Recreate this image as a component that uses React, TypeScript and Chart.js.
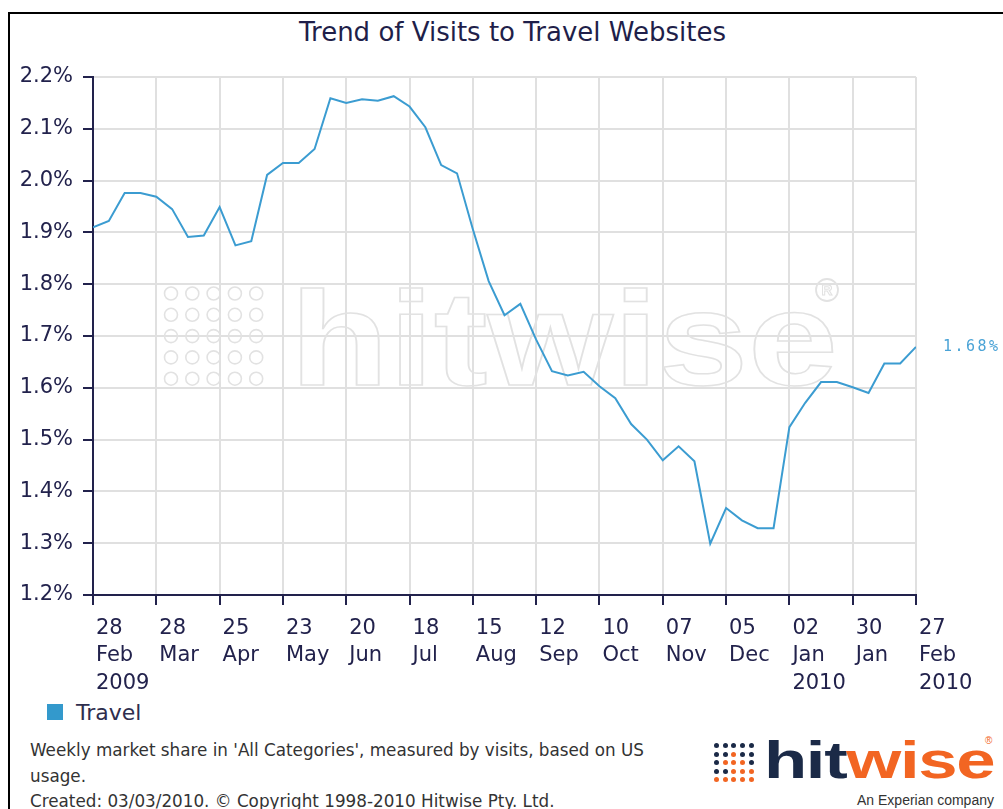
import React, { useEffect, useRef } from "react";
import { Chart, registerables } from "chart.js";

Chart.register(...registerables);

// ---- data ----
const seriesName = "Travel";
const values: number[] = [
  1.910, 1.922, 1.976, 1.976, 1.969, 1.945, 1.891, 1.894, 1.949, 1.875,
  1.883, 2.011, 2.034, 2.034, 2.061, 2.159, 2.150, 2.157, 2.154, 2.163,
  2.143, 2.103, 2.030, 2.014, 1.906, 1.806, 1.740, 1.762, 1.693, 1.632,
  1.624, 1.631, 1.603, 1.580, 1.530, 1.500, 1.460, 1.487, 1.458, 1.299,
  1.368, 1.344, 1.329, 1.329, 1.524, 1.571, 1.611, 1.611, 1.601, 1.590,
  1.647, 1.647, 1.679,
];
const tickDays = ["28", "28", "25", "23", "20", "18", "15", "12", "10", "07", "05", "02", "30", "27"];
const tickMonths = ["Feb", "Mar", "Apr", "May", "Jun", "Jul", "Aug", "Sep", "Oct", "Nov", "Dec", "Jan", "Jan", "Feb"];
const tickYears = ["2009", "", "", "", "", "", "", "", "", "", "", "2010", "", "2010"];
const weeksPerTick = 4;
const yMin = 1.2;
const yMax = 2.2;
const yStep = 0.1;

const titleText = "Trend of Visits to Travel Websites";
const footerLines = [
  "Weekly market share in 'All Categories', measured by visits, based on US",
  "usage.",
  "Created: 03/03/2010. \u00A9 Copyright 1998-2010 Hitwise Pty. Ltd.",
];

const NAVY = "#22224c";
const GRID = "#e0e0e0";
const LINE = "#3b9cd1";

const watermarkPlugin = {
  id: "watermark",
  beforeDatasetsDraw(chart: any) {
    const { ctx, chartArea } = chart;
    const L = chartArea.left;
    const T = chartArea.top;
    ctx.save();
    ctx.strokeStyle = "#e2e2e2";
    ctx.lineWidth = 1.6;
    // dot grid
    for (let i = 0; i < 5; i++) {
      for (let j = 0; j < 5; j++) {
        ctx.beginPath();
        ctx.arc(L + 78 + 21.3 * i, T + 216.5 + 21.3 * j, 6.5, 0, Math.PI * 2);
        ctx.stroke();
      }
    }
    // word
    ctx.font = 'bold 134px "Liberation Sans", Arial, sans-serif';
    ctx.textBaseline = "alphabetic";
    const w = ctx.measureText("hitwise").width;
    const sx = 548 / w;
    ctx.translate(L + 197, T + 308);
    ctx.scale(sx, 1);
    ctx.lineWidth = 1.8 / sx;
    ctx.strokeText("hitwise", 0, 0);
    ctx.restore();
    // registered mark
    ctx.save();
    ctx.strokeStyle = "#e2e2e2";
    ctx.lineWidth = 1.8;
    ctx.beginPath();
    ctx.arc(L + 734, T + 213, 11, 0, Math.PI * 2);
    ctx.stroke();
    ctx.font = 'bold 15px "Liberation Sans", Arial, sans-serif';
    ctx.textAlign = "center";
    ctx.textBaseline = "middle";
    ctx.lineWidth = 1;
    ctx.strokeText("R", L + 734, T + 213.5);
    ctx.restore();
  },
};

const lastLabelPlugin = {
  id: "lastLabel",
  afterDatasetsDraw(chart: any) {
    const meta = chart.getDatasetMeta(0);
    const pts = meta.data;
    if (!pts.length) return;
    const p = pts[pts.length - 1];
    const v = values[values.length - 1];
    const { ctx } = chart;
    ctx.save();
    ctx.font = '15px "DejaVu Sans Mono", monospace';
    (ctx as any).letterSpacing = "2.5px";
    ctx.fillStyle = "#4aa3d6";
    ctx.textAlign = "left";
    ctx.textBaseline = "middle";
    ctx.fillText(v.toFixed(2) + "%", p.x + 27, p.y);
    ctx.restore();
  },
};

function ChartCanvas() {
  const ref = useRef<HTMLCanvasElement | null>(null);
  useEffect(() => {
    if (!ref.current) return;
    const chart = new Chart(ref.current, {
      type: "line",
      data: {
        datasets: [
          {
            label: seriesName,
            data: values.map((v, i) => ({ x: i, y: v })),
            borderColor: LINE,
            backgroundColor: LINE,
            borderWidth: 2,
            pointRadius: 0,
            tension: 0,
            fill: false,
          },
        ],
      },
      options: {
        animation: false,
        responsive: false,
        maintainAspectRatio: false,
        layout: { padding: { top: 69, right: 87, left: 0, bottom: 0 } },
        plugins: {
          legend: { display: false },
          title: { display: false },
          tooltip: { enabled: false },
        },
        scales: {
          x: {
            type: "linear",
            min: 0,
            max: (tickDays.length - 1) * weeksPerTick,
            afterFit: (s: any) => {
              s.height = 103;
            },
            ticks: {
              stepSize: weeksPerTick,
              autoSkip: false,
              maxRotation: 0,
              minRotation: 0,
              align: "start",
              labelOffset: 3,
              padding: 10,
              color: NAVY,
              font: { family: '"DejaVu Sans", Verdana, sans-serif', size: 21, lineHeight: 1.3 },
              callback: (v: any) => {
                const i = Math.round(Number(v) / weeksPerTick);
                if (Math.abs(Number(v) / weeksPerTick - i) > 1e-6) return "";
                const lines = [tickDays[i], tickMonths[i]];
                if (tickYears[i]) lines.push(tickYears[i]);
                return lines;
              },
            },
            grid: {
              color: GRID,
              lineWidth: 2,
              tickColor: NAVY,
              tickLength: 10,
              tickWidth: 2,
            },
            border: { color: NAVY, width: 2 },
          },
          y: {
            type: "linear",
            min: yMin,
            max: yMax,
            afterFit: (s: any) => {
              s.width = 85;
            },
            ticks: {
              stepSize: yStep,
              padding: 10,
              color: NAVY,
              font: { family: '"DejaVu Sans", Verdana, sans-serif', size: 21 },
              callback: (v: any) => Number(v).toFixed(1) + "%",
            },
            grid: {
              color: GRID,
              lineWidth: 2,
              tickColor: NAVY,
              tickLength: 10,
              tickWidth: 2,
            },
            border: { color: NAVY, width: 2 },
          },
        },
      } as any,
      plugins: [watermarkPlugin, lastLabelPlugin],
    });
    return () => chart.destroy();
  }, []);
  return (
    <canvas
      ref={ref}
      width={995}
      height={690}
      style={{ position: "absolute", left: 8, top: 8, width: 995, height: 690 }}
    />
  );
}

const logoDots: string[][] = [
  ["N", "N", "N", "N", "N"],
  ["N", "N", "O", "N", "N"],
  ["N", "O", "O", "O", "N"],
  ["N", "N", "O", "O", "O"],
  ["O", "O", "O", "O", "O"],
];

export default function App() {
  return (
    <div
      style={{
        position: "fixed",
        left: 0,
        top: 0,
        width: 1003,
        height: 809,
        overflow: "hidden",
        background: "#fff",
        fontFamily: '"DejaVu Sans", Verdana, sans-serif',
      }}
    >
      <div
        style={{
          position: "absolute",
          left: 8,
          top: 12,
          width: 1000,
          height: 800,
          borderTop: "2px solid #000",
          borderLeft: "2px solid #000",
        }}
      />
      <div
        style={{
          position: "absolute",
          left: 0,
          top: 17,
          width: 1025,
          textAlign: "center",
          fontSize: 26,
          lineHeight: "30px",
          color: "#1f1f4a",
          whiteSpace: "nowrap",
        }}
      >
        {titleText}
      </div>
      <ChartCanvas />
      {/* legend */}
      <div style={{ position: "absolute", left: 47, top: 704, width: 16, height: 16, background: "#3399cc" }} />
      <div
        style={{
          position: "absolute",
          left: 76,
          top: 700,
          fontSize: 22,
          lineHeight: "26px",
          color: "#2e2e4e",
          whiteSpace: "nowrap",
        }}
      >
        {seriesName}
      </div>
      {/* footer */}
      <div
        style={{
          position: "absolute",
          left: 30,
          top: 738,
          fontSize: 16.8,
          lineHeight: "25.5px",
          color: "#333",
          whiteSpace: "nowrap",
        }}
      >
        {footerLines.map((l, i) => (
          <div key={i}>{l}</div>
        ))}
      </div>
      {/* logo */}
      {logoDots.map((row, r) =>
        row.map((c, k) => (
          <div
            key={r + "-" + k}
            style={{
              position: "absolute",
              left: 714 + k * 8.7,
              top: 743 + r * 8.5,
              width: 5,
              height: 5,
              borderRadius: 3,
              background: c === "N" ? "#1b2a47" : "#f26522",
            }}
          />
        ))
      )}
      <div
        style={{
          position: "absolute",
          left: 764,
          top: 734,
          fontFamily: '"Liberation Sans", Arial, sans-serif',
          fontWeight: "bold",
          fontSize: 52,
          lineHeight: "52px",
          letterSpacing: -1,
          whiteSpace: "nowrap",
          transform: "scaleX(1.36)",
          transformOrigin: "left top",
        }}
      >
        <span style={{ color: "#1b2a47" }}>hit</span>
        <span style={{ color: "#f26522" }}>wise</span>
      </div>
      <div
        style={{
          position: "absolute",
          left: 985,
          top: 735,
          fontFamily: '"Liberation Sans", Arial, sans-serif',
          fontSize: 10,
          color: "#f26522",
        }}
      >
        {"\u00AE"}
      </div>
      <div
        style={{
          position: "absolute",
          left: 857,
          top: 792,
          fontFamily: '"Liberation Sans", Arial, sans-serif',
          fontSize: 14,
          lineHeight: "16px",
          color: "#333",
          whiteSpace: "nowrap",
        }}
      >
        An Experian company
      </div>
    </div>
  );
}
